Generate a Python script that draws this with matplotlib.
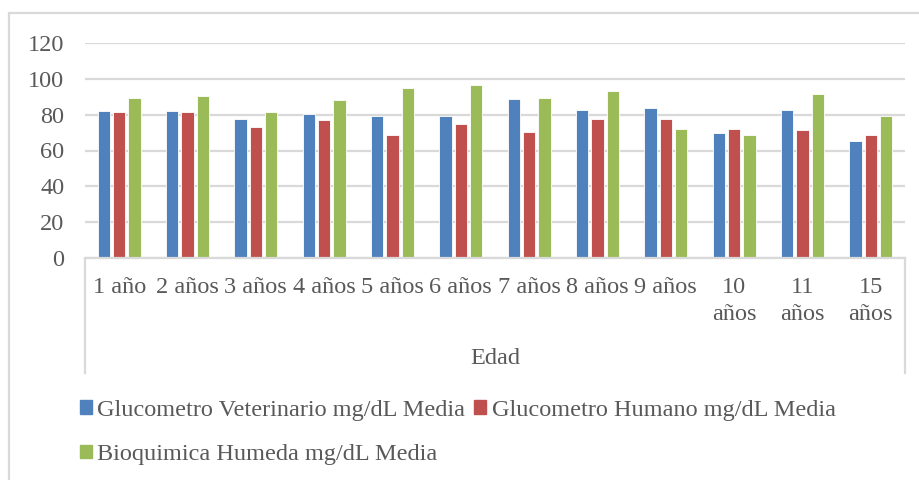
import matplotlib
matplotlib.use("Agg")
import matplotlib.pyplot as plt
from matplotlib.patches import Patch, Rectangle
from matplotlib.lines import Line2D
import numpy as np

edades = ["1 año", "2 años", "3 años", "4 años", "5 años", "6 años",
          "7 años", "8 años", "9 años", "10\naños", "11\naños", "15\naños"]
gluco_vet = [82.1, 82.0, 77.8, 80.6, 79.1, 79.1, 88.8, 82.5, 83.9, 70.0, 82.5, 65.1]
gluco_hum = [81.4, 81.4, 73.0, 77.1, 68.7, 75.0, 70.2, 77.8, 77.8, 72.2, 71.5, 68.7]
bioquimica = [89.5, 90.3, 81.4, 88.1, 95.1, 96.5, 89.5, 93.1, 72.2, 68.7, 91.8, 79.1]

series_names = ["Glucometro Veterinario mg/dL Media",
                "Glucometro Humano mg/dL Media",
                "Bioquimica Humeda mg/dL Media"]
colores = ["#4F81BD", "#C0504D", "#9BBB59"]

plt.rcParams["font.family"] = ["Liberation Serif", "DejaVu Serif"]
TXT = "#595959"
GRID = "#D9D9D9"
FS = 17.5
W, H = 920, 480

fig = plt.figure(figsize=(9.2, 4.8), dpi=100)
ax = fig.add_axes([85 / W, (H - 258) / H, 820 / W, 215 / H])

x = np.arange(len(edades))
ancho = 0.18
paso = 0.225
for k, (vals, c) in enumerate(zip([gluco_vet, gluco_hum, bioquimica], colores)):
    ax.bar(x + (k - 1) * paso, vals, ancho, color=c, edgecolor="white",
           linewidth=0.6, zorder=3)

ax.set_xlim(-0.5, len(edades) - 0.5)
ax.set_ylim(0, 120)
ax.set_yticks(range(0, 121, 20))
ax.grid(axis="y", color=GRID, linewidth=1.6, zorder=0)
for s in ["left", "right", "top"]:
    ax.spines[s].set_visible(False)
ax.spines["bottom"].set_color(GRID)
ax.spines["bottom"].set_linewidth(1.6)
ax.spines["bottom"].set_zorder(4)
ax.tick_params(axis="y", length=0, pad=15, labelsize=FS, labelcolor=TXT)
ax.set_xticks(x)
ax.set_xticklabels(edades, linespacing=1.35)
ax.tick_params(axis="x", length=0, pad=14, labelsize=FS, labelcolor=TXT)
for lbl in ax.get_xticklabels():
    lbl.set_verticalalignment("top")

# caja del eje de categorias
for px in (85, 905):
    fig.add_artist(Line2D([px / W, px / W], [(H - 258) / H, (H - 373) / H],
                          color=GRID, linewidth=1.6))
fig.text(495 / W, (H - 358) / H, "Edad", ha="center", va="center",
         fontsize=FS, color=TXT)

# borde exterior del grafico
fig.add_artist(Rectangle((9 / W, -0.1), 1.2, (H - 13) / H + 0.1,
                         transform=fig.transFigure, fill=False,
                         edgecolor=GRID, linewidth=1.6))

handles = [Patch(color=colores[0], label=series_names[0]),
           Patch(color=colores[2], label=series_names[2]),
           Patch(color=colores[1], label=series_names[1])]
leg = fig.legend(handles=handles, loc="upper left", ncol=2,
                 bbox_to_anchor=(80 / W, (H - 400) / H),
                 frameon=False, fontsize=FS, handlelength=0.5,
                 handleheight=0.5, handletextpad=0.22, columnspacing=0.35,
                 labelspacing=0.95, borderpad=0, borderaxespad=0)
for t in leg.get_texts():
    t.set_color(TXT)

fig.savefig("out.png", dpi=100)
